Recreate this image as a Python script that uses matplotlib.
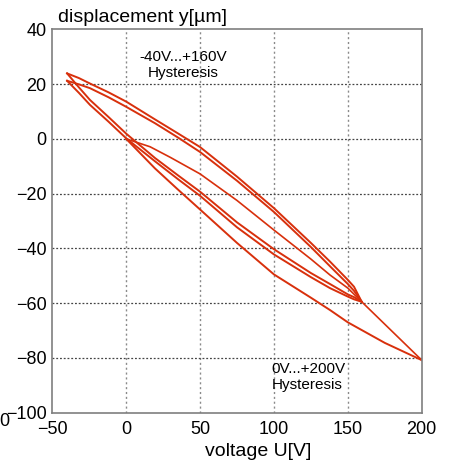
import matplotlib
matplotlib.use("Agg")
import matplotlib.pyplot as plt

plt.rcParams['font.family'] = ['Liberation Sans', 'DejaVu Sans']

# -40V...+160V loop, sampled voltages
loop_a_v = [-40, -32, -24.5, -12, 0, 19.5, 35, 50, 75, 100, 125, 137.9, 150, 154.2, 159.4]
# rising-displacement branches (two cycles)
loop_a_upper1 = [23.9, 22.2, 20.2, 17.0, 13.6, 7.1, 2.0, -3.0, -13.8, -25.3, -38.0, -44.8, -51.5, -54.0, -59.5]
loop_a_upper2 = [21.2, 19.9, 18.5, 15.2, 11.7, 5.7, 0.5, -4.8, -15.3, -26.7, -39.5, -46.5, -53.0, -55.5, -59.5]
# falling-displacement branches (two cycles)
loop_a_lower1 = [23.9, 18.8, 14.2, 8.0, 1.9, -7.0, -13.3, -19.3, -30.5, -40.3, -49.0, -53.0, -56.8, -57.8, -59.5]
loop_a_lower2 = [21.2, 16.8, 12.4, 6.3, 0.2, -8.2, -14.7, -20.8, -32.3, -42.2, -50.5, -54.5, -57.6, -58.6, -59.5]

# 0V...+200V loop
loop_b_inner_v = [0, 16.2, 30, 50, 75, 100, 125, 137.9, 150, 159.4, 200]
loop_b_inner_y = [0, -2.9, -6.8, -12.8, -22.5, -33.3, -43.9, -49.7, -54.5, -59.5, -80.8]
loop_b_outer_v = [0, 19.5, 35, 50, 75, 100, 125, 137.9, 150, 175, 200]
loop_b_outer_y = [0, -10.8, -18.5, -25.8, -38.0, -49.5, -58.0, -62.5, -67.0, -74.5, -80.8]

x_ticks = [-50, 0, 50, 100, 150, 200]
y_ticks = [-100, -80, -60, -40, -20, 0, 20, 40]

color = '#d8300c'
W, H = 453, 463
fig = plt.figure(figsize=(W / 100, H / 100), dpi=100)
ax = fig.add_axes([52.3 / W, 1 - 412.7 / H, (421.7 - 52.3) / W, (412.7 - 29.3) / H])

for yy in (loop_a_upper1, loop_a_upper2, loop_a_lower1, loop_a_lower2):
    ax.plot(loop_a_v, yy, color=color, lw=1.4, solid_joinstyle='round')
ax.plot(loop_b_inner_v, loop_b_inner_y, color=color, lw=1.2, solid_joinstyle='round')
ax.plot(loop_b_outer_v, loop_b_outer_y, color=color, lw=1.4, solid_joinstyle='round')

ax.set_xlim(-50, 200)
ax.set_ylim(-100, 40)
ax.set_xticks(x_ticks)
ax.set_yticks(y_ticks)
ax.tick_params(length=0, labelsize=13, colors='black')
ax.tick_params(axis='x', pad=6)
ax.tick_params(axis='y', pad=4)
for t in ax.get_xticks():
    if -50 < t < 200:
        ax.axvline(t, color='#8a8a8a', lw=1, ls=(0, (1.5, 2)), zorder=0)
for t in ax.get_yticks():
    if -100 < t < 40:
        ax.axhline(t, color='#444444', lw=0.9, ls=(0, (1.5, 1.5)), zorder=0)
for s in ax.spines.values():
    s.set_color('#7f7f7f')
    s.set_linewidth(1.2)

fig.text(58 / W, 1 - 17 / H, 'displacement y[µm]', fontsize=14, ha='left', va='center')
fig.text(258 / W, 1 - 452 / H, 'voltage U[V]', fontsize=14, ha='center', va='center')
fig.text(-1 / W, 1 - 421 / H, '0', fontsize=13, ha='left', va='center')

ax.text(38.5, 27, '-40V...+160V\nHysteresis', fontsize=11, ha='center', va='center', linespacing=1.15)
ax.text(98.5, -87, '0V...+200V\nHysteresis', fontsize=11, ha='left', va='center', linespacing=1.15)

fig.savefig('out.png', dpi=100)
